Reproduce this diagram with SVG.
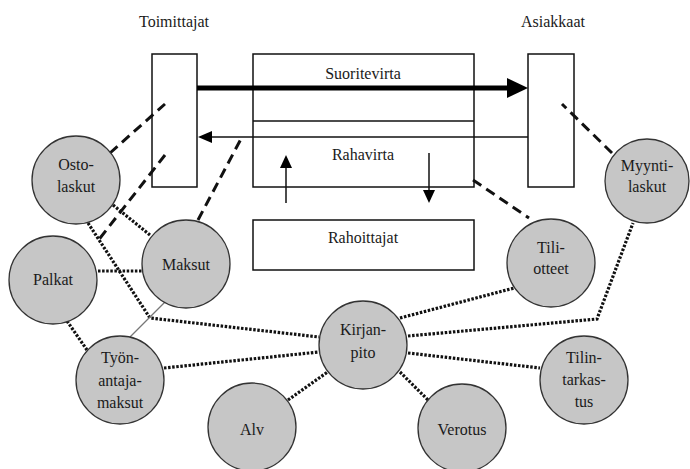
<svg xmlns="http://www.w3.org/2000/svg" width="690" height="469" viewBox="0 0 690 469">
<style>
text{font-family:"Liberation Serif","DejaVu Serif",serif;font-size:16px;fill:#1a1a1a;text-anchor:middle}
.box{fill:#fff;stroke:#111;stroke-width:1.5}
.circ{fill:#c6c6c6;stroke:#333;stroke-width:1.3}
.dash{fill:none;stroke:#111;stroke-width:3;stroke-dasharray:10 6}
.dot{fill:none;stroke:#111;stroke-width:3.2;stroke-dasharray:2.5 1.6}
.thin{fill:none;stroke:#777;stroke-width:1.2}
</style>
<rect width="690" height="469" fill="#fff"/>
<g id="titles">
<text x="174" y="27">Toimittajat</text>
<text x="553" y="27">Asiakkaat</text>
</g>
<g id="toimittajat"><rect class="box" x="152" y="54" width="45" height="133"/></g>
<g id="asiakkaat"><rect class="box" x="528" y="54" width="46" height="133"/></g>
<g id="virrat">
<rect class="box" x="253" y="54" width="221" height="133"/>
<line x1="253" y1="121" x2="474" y2="121" stroke="#111" stroke-width="1.5"/>
<text x="363" y="79">Suoritevirta</text>
<text x="363" y="160">Rahavirta</text>
</g>
<g id="rahoittajat">
<rect class="box" x="253" y="220" width="221" height="50"/>
<text x="363" y="243">Rahoittajat</text>
</g>
<g id="connectors">
<line x1="197" y1="88" x2="510" y2="88" stroke="#000" stroke-width="5"/>
<polygon points="507,78 528,88 507,98" fill="#000"/>
<line x1="210" y1="137" x2="528" y2="137" stroke="#111" stroke-width="1.5"/>
<polygon points="212,131 198,137 212,143" fill="#000"/>
<line x1="286" y1="166" x2="286" y2="203" stroke="#111" stroke-width="1.5"/>
<polygon points="280,168 286,155 292,168" fill="#000"/>
<line x1="429" y1="153" x2="429" y2="192" stroke="#111" stroke-width="1.5"/>
<polygon points="423,190 429,203 435,190" fill="#000"/>
<line class="dash" x1="110" y1="153" x2="165" y2="104"/>
<line class="dash" x1="165" y1="155" x2="97" y2="242"/>
<line class="dash" x1="198" y1="220" x2="242" y2="137"/>
<line class="dash" x1="612" y1="153" x2="562" y2="104"/>
<line class="dash" x1="473" y1="180" x2="529" y2="218"/>
<line class="dot" x1="113" y1="205" x2="150" y2="235"/>
<polyline class="dot" points="88,223 150,318 319,337"/>
<line class="dot" x1="98" y1="271" x2="142" y2="271"/>
<line class="dot" x1="67" y1="321" x2="87" y2="350"/>
<line class="thin" x1="165" y1="302" x2="130" y2="337"/>
<line class="dot" x1="164" y1="368" x2="319" y2="352"/>
<line class="dot" x1="288" y1="400" x2="329" y2="371"/>
<line class="dot" x1="400" y1="372" x2="428" y2="400"/>
<line class="dot" x1="408" y1="353" x2="540" y2="368"/>
<polyline class="dot" points="408,336 597,319 633,223"/>
<line class="dot" x1="400" y1="318" x2="518" y2="287"/>
</g>
<g id="ostolaskut"><circle class="circ" cx="76" cy="180" r="44"/><text x="76" y="170">Osto-</text><text x="76" y="192">laskut</text></g>
<g id="palkat"><circle class="circ" cx="53" cy="280" r="44"/><text x="53" y="285">Palkat</text></g>
<g id="maksut"><circle class="circ" cx="186" cy="264" r="44"/><text x="186" y="270">Maksut</text></g>
<g id="tyonantajamaksut"><circle class="circ" cx="120" cy="380" r="44"/><text x="120" y="363">Työn-</text><text x="120" y="386">antaja-</text><text x="120" y="408">maksut</text></g>
<g id="alv"><circle class="circ" cx="252" cy="427" r="44"/><text x="252" y="435">Alv</text></g>
<g id="kirjanpito"><circle class="circ" cx="363" cy="345" r="44"/><text x="363" y="335">Kirjan-</text><text x="363" y="358">pito</text></g>
<g id="verotus"><circle class="circ" cx="462" cy="428" r="44"/><text x="462" y="435">Verotus</text></g>
<g id="tiliotteet"><circle class="circ" cx="551" cy="263" r="44"/><text x="551" y="253">Tili-</text><text x="551" y="274">otteet</text></g>
<g id="tilintarkastus"><circle class="circ" cx="584" cy="380" r="44"/><text x="584" y="363">Tilin-</text><text x="584" y="385">tarkas-</text><text x="584" y="407">tus</text></g>
<g id="myyntilaskut"><circle class="circ" cx="647" cy="181" r="42"/><text x="647" y="171">Myynti-</text><text x="647" y="192">laskut</text></g>
</svg>
